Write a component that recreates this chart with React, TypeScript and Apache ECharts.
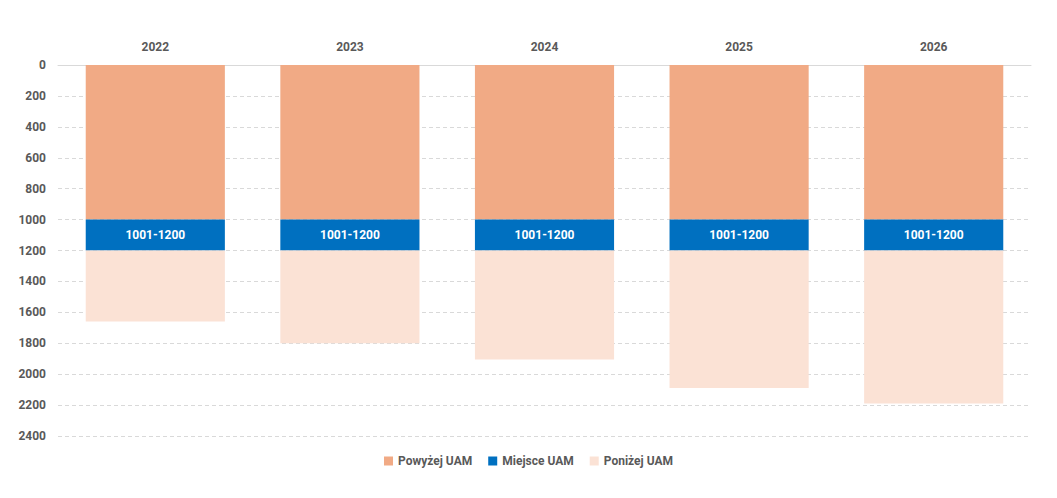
import { useEffect, useRef } from 'react';
import * as echarts from 'echarts';

const years = ['2022', '2023', '2024', '2025', '2026'];
const aboveUam = [1000, 1000, 1000, 1000, 1000];
const uamPlace = [200, 200, 200, 200, 200];
const belowUam = [460, 600, 705, 890, 990];
const placeLabel = '1001-1200';

const textGrey = '#595959';
const font = 'Roboto, "Liberation Sans", sans-serif';

export default function App() {
  const box = useRef<HTMLDivElement>(null);

  useEffect(() => {
    if (!box.current) return;
    const chart = echarts.init(box.current, undefined, { renderer: 'svg' });
    chart.setOption({
      animation: false,
      textStyle: { fontFamily: font },
      grid: { left: 58, right: 26, top: 65, bottom: 62 },
      legend: {
        bottom: 26,
        left: 'center',
        itemWidth: 9,
        itemHeight: 9,
        itemGap: 16,
        icon: 'rect',
        textStyle: { color: textGrey, fontSize: 12, fontWeight: 'bold', fontFamily: font },
      },
      xAxis: {
        type: 'category',
        position: 'top',
        data: years,
        axisLine: { show: true, lineStyle: { color: '#d9d9d9' } },
        axisTick: { show: false },
        axisLabel: { color: textGrey, fontSize: 12, fontWeight: 'bold', margin: 12 },
      },
      yAxis: {
        type: 'value',
        inverse: true,
        min: 0,
        max: 2400,
        interval: 200,
        axisLine: { show: false },
        axisTick: { show: false },
        axisLabel: {
          color: textGrey,
          fontSize: 12,
          fontWeight: 'bold',
          margin: 12,
          formatter: (v: number) => String(v),
        },
        splitLine: { lineStyle: { color: '#d9d9d9', type: [4, 3] } },
      },
      series: [
        {
          name: 'Powyżej UAM',
          type: 'bar',
          stack: 'all',
          barWidth: '71.5%',
          itemStyle: { color: '#f1aa85' },
          data: aboveUam,
        },
        {
          name: 'Miejsce UAM',
          type: 'bar',
          stack: 'all',
          itemStyle: { color: '#0070c0' },
          label: {
            show: true,
            position: 'inside',
            formatter: placeLabel,
            color: '#fff',
            fontSize: 12,
            fontWeight: 'bold',
            fontFamily: font,
          },
          data: uamPlace,
        },
        {
          name: 'Poniżej UAM',
          type: 'bar',
          stack: 'all',
          itemStyle: { color: '#fbe2d5' },
          data: belowUam,
        },
      ],
    });
    return () => chart.dispose();
  }, []);

  return (
    <div
      ref={box}
      style={{ position: 'fixed', left: 0, top: 0, width: 1057, height: 498, background: '#fff' }}
    />
  );
}
